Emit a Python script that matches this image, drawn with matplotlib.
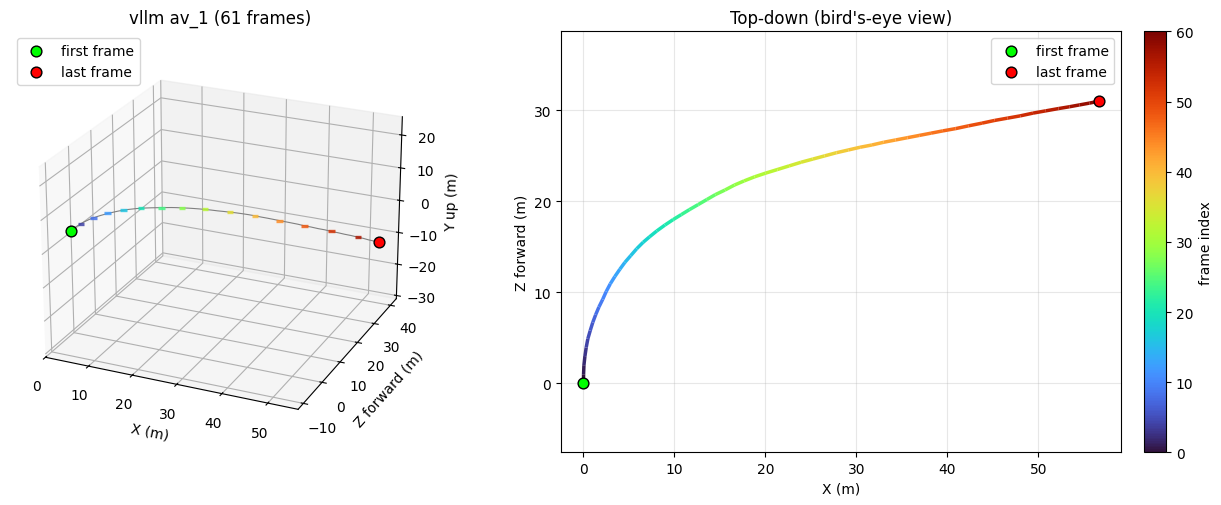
import numpy as np
import matplotlib
matplotlib.use("Agg")
import matplotlib.pyplot as plt
from matplotlib.collections import LineCollection

# camera positions, one per frame (metres)
x = [0.0, 0.01, 0.05, 0.16, 0.30, 0.48, 0.74, 1.02, 1.34, 1.70,
     2.11, 2.50, 2.95, 3.45, 4.00, 4.55, 5.20, 5.85, 6.55, 7.25,
     8.05, 8.95, 9.85, 10.75, 11.65, 12.60, 13.55, 14.50, 15.55, 16.60,
     17.65, 18.80, 20.00, 21.30, 22.60, 23.90, 25.20, 26.50, 27.80, 29.10,
     30.40, 31.70, 33.00, 34.30, 35.60, 36.90, 38.20, 39.50, 40.90, 42.30,
     43.80, 45.20, 46.60, 48.00, 49.40, 50.80, 52.20, 53.40, 54.50, 55.60, 56.60]
z = [0.0, 1.0, 2.0, 3.0, 3.95, 4.9, 5.8, 6.7, 7.55, 8.4,
     9.23, 10.1, 10.95, 11.75, 12.55, 13.3, 14.05, 14.8, 15.5, 16.1,
     16.75, 17.4, 18.0, 18.55, 19.1, 19.65, 20.2, 20.75, 21.25, 21.8,
     22.25, 22.7, 23.1, 23.5, 23.9, 24.3, 24.65, 25.0, 25.35, 25.65,
     25.95, 26.2, 26.5, 26.75, 27.0, 27.25, 27.5, 27.75, 28.0, 28.3,
     28.6, 28.9, 29.15, 29.4, 29.7, 29.95, 30.2, 30.4, 30.6, 30.8, 31.0]
y = [0.3, 0.35, 0.4, 0.45, 0.5, 0.5, 0.55, 0.6, 0.6, 0.6,
     0.6, 0.55, 0.55, 0.5, 0.5, 0.5, 0.45, 0.45, 0.4, 0.4,
     0.35, 0.3, 0.25, 0.2, 0.15, 0.1, 0.05, -0.05, -0.15, -0.25,
     -0.35, -0.45, -0.55, -0.65, -0.8, -0.9, -1.0, -1.1, -1.25, -1.4,
     -1.6, -1.8, -2.0, -2.2, -2.4, -2.6, -2.8, -3.0, -3.3, -3.5,
     -3.8, -4.0, -4.3, -4.5, -4.8, -5.0, -5.3, -5.5, -5.8, -6.0, -6.2]
mark_frames = [4, 8, 12, 16, 20, 24, 28, 32, 36, 40, 44, 48, 52, 56]

x = np.array(x)
y = np.array(y)
z = np.array(z)
n = len(x)
cmap = plt.get_cmap("turbo")
norm = plt.Normalize(0, n - 1)

fig = plt.figure(figsize=(12.21, 5.06), dpi=100)
W, H = 1221.0, 506.0

# 3D view
ax1 = fig.add_axes([10 / W, 1 - 453 / H, 420 / W, 421 / H], projection="3d")
ax1.view_init(elev=23.5, azim=-66)
ax1.plot(x, z, y, color="gray", lw=0.8)
ax1.scatter(x[mark_frames], z[mark_frames], y[mark_frames], c=mark_frames, cmap=cmap, norm=norm,
            marker="_", s=22, linewidths=2.4, alpha=0.85, depthshade=False)
ax1.scatter(x[0], z[0], y[0], color="lime", edgecolors="k", s=60, label="first frame", depthshade=False, zorder=5)
ax1.scatter(x[-1], z[-1], y[-1], color="red", edgecolors="k", s=60, label="last frame", depthshade=False, zorder=5)
ax1.set_xlim(0, 56.5)
ax1.set_ylim(-12.75, 43.75)
ax1.set_zlim(-31, 25.5)
ax1.set_xticks(range(0, 60, 10))
ax1.set_yticks(range(-10, 50, 10))
ax1.set_zticks(range(-30, 30, 10))
ax1.set_xlabel("X (m)")
ax1.set_ylabel("Z forward (m)")
ax1.set_zlabel("Y up (m)")
ax1.set_title("vllm av_1 (61 frames)", fontsize=12)
ax1.legend(loc="upper left")

# top-down view
ax2 = fig.add_axes([561 / W, 1 - 453.4 / H, 560 / W, 421 / H])
pts = np.column_stack([x, z]).reshape(-1, 1, 2)
segs = np.concatenate([pts[:-1], pts[1:]], axis=1)
lc = LineCollection(segs, cmap=cmap, norm=norm, linewidth=2.5)
lc.set_array(np.arange(n - 1))
ax2.add_collection(lc)
ax2.scatter(x[0], z[0], color="lime", edgecolors="k", s=60, label="first frame", zorder=5)
ax2.scatter(x[-1], z[-1], color="red", edgecolors="k", s=60, label="last frame", zorder=5)
ax2.set_xlim(-2.47, 59.07)
ax2.set_ylim(-7.58, 38.68)
ax2.grid(True, alpha=0.3)
ax2.set_xlabel("X (m)")
ax2.set_ylabel("Z forward (m)")
ax2.set_title("Top-down (bird's-eye view)", fontsize=12)
ax2.legend(loc="upper right")

cax = fig.add_axes([1144 / W, 1 - 453.4 / H, 22 / W, 421 / H])
cb = fig.colorbar(plt.cm.ScalarMappable(norm=norm, cmap=cmap), cax=cax)
cb.set_label("frame index")

fig.savefig("out.png", dpi=100)
